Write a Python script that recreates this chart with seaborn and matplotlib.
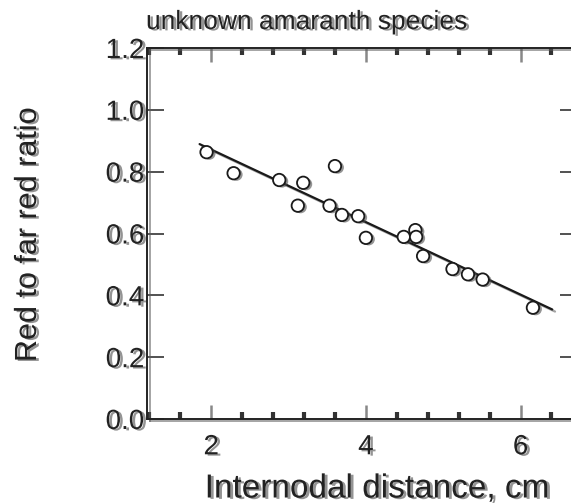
import numpy as np
import matplotlib
matplotlib.use('Agg')
import matplotlib.pyplot as plt
import matplotlib.patheffects as pe
from matplotlib.ticker import MultipleLocator
import seaborn as sns

# values
internode_cm = [1.94, 2.29, 2.88, 3.19, 3.12, 3.60, 3.53, 3.69, 3.90,
                4.00, 4.49, 4.64, 4.65, 4.74, 5.12, 5.32, 5.51, 6.16]
rfr_ratio = [0.863, 0.795, 0.773, 0.764, 0.690, 0.818, 0.690, 0.660, 0.656,
             0.586, 0.589, 0.611, 0.589, 0.527, 0.485, 0.468, 0.451, 0.360]
fit_range = [1.85, 6.41]
x_major = [2, 4, 6]
y_major = [0.0, 0.2, 0.4, 0.6, 0.8, 1.0, 1.2]

sns.set_theme(style='ticks')
plt.rcParams['font.family'] = ['Liberation Sans', 'DejaVu Sans']

shadow = [pe.SimplePatchShadow(offset=(2, -1), shadow_rgbFace='0.3', alpha=0.6), pe.Normal()]
line_shadow = [pe.SimpleLineShadow(offset=(2, -1.5), shadow_color='0.35', alpha=0.55), pe.Normal()]


def main():
    fig = plt.figure(figsize=(5.71, 5.03), dpi=100)
    ax = fig.add_axes([147 / 571, 1 - 419 / 503, 430 / 571, 371 / 503])

    # regression line
    slope, icpt = np.polyfit(internode_cm, rfr_ratio, 1)
    fx = np.array(fit_range)
    sns.lineplot(x=fx, y=slope * fx + icpt, ax=ax, color='#1a1a1a', lw=1.6,
                 path_effects=line_shadow)

    sns.scatterplot(x=internode_cm, y=rfr_ratio, ax=ax, s=80, color='white',
                    edgecolor='#1a1a1a', linewidth=1.3, zorder=3,
                    path_effects=shadow)

    ax.set_xlim(1.17, 6.73)
    ax.set_ylim(0, 1.2)
    ax.set_xticks(x_major)
    ax.set_yticks(y_major)
    ax.xaxis.set_minor_locator(MultipleLocator(0.4))

    for side in ['left', 'right', 'top', 'bottom']:
        ax.spines[side].set_linewidth(1.4)
        ax.spines[side].set_color('#222222')
        ax.spines[side].set_path_effects(line_shadow)

    ax.tick_params(axis='x', which='major', direction='in', length=10, width=1.8,
                   color='#888888', top=True, bottom=True, labelsize=20, pad=11)
    ax.tick_params(axis='x', which='minor', direction='in', length=5, width=3,
                   color='#333333', top=True, bottom=True)
    ax.tick_params(axis='y', which='major', direction='in', length=12, width=1.2,
                   color='#333333', left=True, right=True, labelsize=20, pad=2)

    for lab in ax.get_xticklabels() + ax.get_yticklabels():
        lab.set_color('#222222')
        lab.set_path_effects(shadow)

    ax.set_xlabel('')
    ax.set_ylabel('')

    fig.text(307 / 571, 1 - 22 / 503, 'unknown amaranth species', ha='center', va='center',
             fontsize=19, color='#222222', path_effects=shadow)
    fig.text(377 / 571, 1 - 489 / 503, 'Internodal distance, cm', ha='center', va='center',
             fontsize=24, color='#222222', path_effects=shadow)
    fig.text(28 / 571, 1 - 235 / 503, 'Red to far red ratio', ha='center', va='center',
             rotation=90, fontsize=22, color='#222222', path_effects=shadow)

    fig.savefig('out.png', dpi=100)
    plt.close(fig)


if __name__ == '__main__':
    main()
